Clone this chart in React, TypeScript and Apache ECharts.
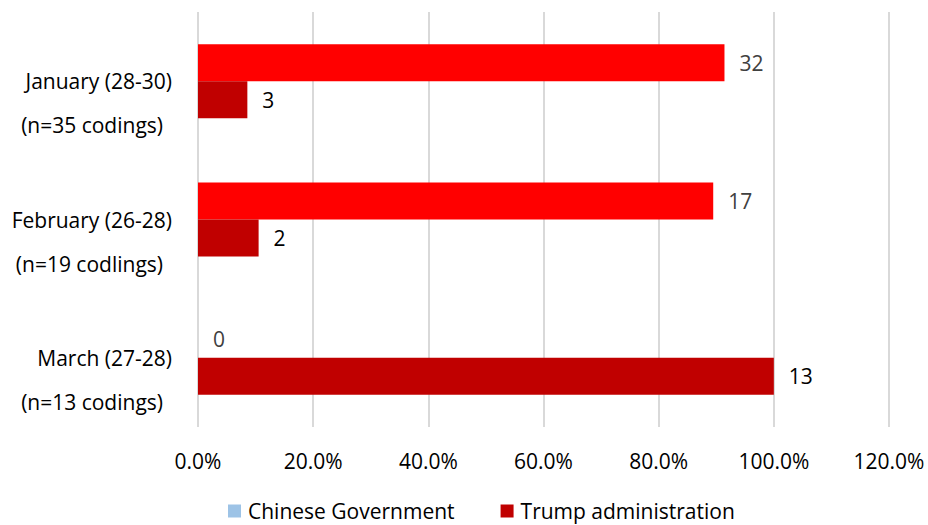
import React, { useEffect, useRef } from "react";
import * as echarts from "echarts";

const categories = ["January (28-30)", "February (26-28)", "March (27-28)"];
const sampleNotes = ["(n=35 codings)", "(n=19 codlings)", "(n=13 codings)"];
const totals = [35, 19, 13];
const chineseCounts = [32, 17, 0];
const trumpCounts = [3, 2, 13];
const xTicks = [0, 20, 40, 60, 80, 100, 120];

const FONT = "Open Sans";
const FS = 21;

export default function App() {
  const ref = useRef<HTMLDivElement>(null);
  useEffect(() => {
    document.body.style.margin = "0";
    const chart = echarts.init(ref.current!, null, { renderer: "svg" });
    const pct = (c: number[]) => c.map((v, i) => ({ value: (v / totals[i]) * 100, count: v }));
    chart.setOption({
      animation: false,
      textStyle: { fontFamily: FONT },
      grid: { left: 198, right: 39, top: 12, bottom: 98, containLabel: false },
      legend: {
        top: 500,
        left: 228,
        padding: 0,
        itemWidth: 13,
        itemHeight: 13,
        itemGap: 46,
        icon: "rect",
        textStyle: { fontFamily: FONT, fontSize: FS, color: "#000", lineHeight: 22, padding: [0, 0, 0, 2] },
        data: [
          { name: "Chinese Government", itemStyle: { color: "#9DC3E6" } },
          { name: "Trump administration", itemStyle: { color: "#C00000" } },
        ],
      },
      xAxis: {
        type: "value",
        min: xTicks[0],
        max: xTicks[xTicks.length - 1],
        interval: 20,
        axisLine: { show: false },
        axisTick: { show: false },
        splitLine: { show: true, lineStyle: { color: "#D9D9D9", width: 2 } },
        axisLabel: {
          margin: 23,
          fontFamily: FONT,
          fontSize: FS,
          color: "#000",
          formatter: (v: number) => v.toFixed(1) + "%",
        },
      },
      yAxis: {
        type: "category",
        inverse: true,
        data: categories,
        axisLine: { show: false },
        axisTick: { show: false },
        axisLabel: {
          margin: 26,
          fontFamily: FONT,
          fontSize: FS,
          color: "#000",
          lineHeight: 44,
          formatter: (v: string, i: number) => `{a|}\n{a|${v}}\n{b|${sampleNotes[i]}}`,
          rich: {
            a: { fontFamily: FONT, fontSize: FS, color: "#000", lineHeight: 44 },
            b: { fontFamily: FONT, fontSize: FS, color: "#000", lineHeight: 44, padding: [0, 9, 0, 0] },
          },
        },
      },
      series: [
        {
          name: "Chinese Government",
          type: "bar",
          barWidth: 37,
          barGap: "0%",
          barCategoryGap: "46%",
          itemStyle: { color: "#FF0000" },
          data: pct(chineseCounts),
          label: {
            show: true,
            position: "right",
            distance: 15,
            fontFamily: FONT,
            fontSize: FS,
            color: "#404040",
            formatter: (p: any) => String(p.data.count),
          },
        },
        {
          name: "Trump administration",
          type: "bar",
          barWidth: 37,
          barGap: "0%",
          itemStyle: { color: "#C00000" },
          data: pct(trumpCounts),
          label: {
            show: true,
            position: "right",
            distance: 15,
            fontFamily: FONT,
            fontSize: FS,
            color: "#000",
            formatter: (p: any) => String(p.data.count),
          },
        },
      ],
    });
    return () => chart.dispose();
  }, []);
  return <div ref={ref} style={{ width: 928, height: 525 }} />;
}
